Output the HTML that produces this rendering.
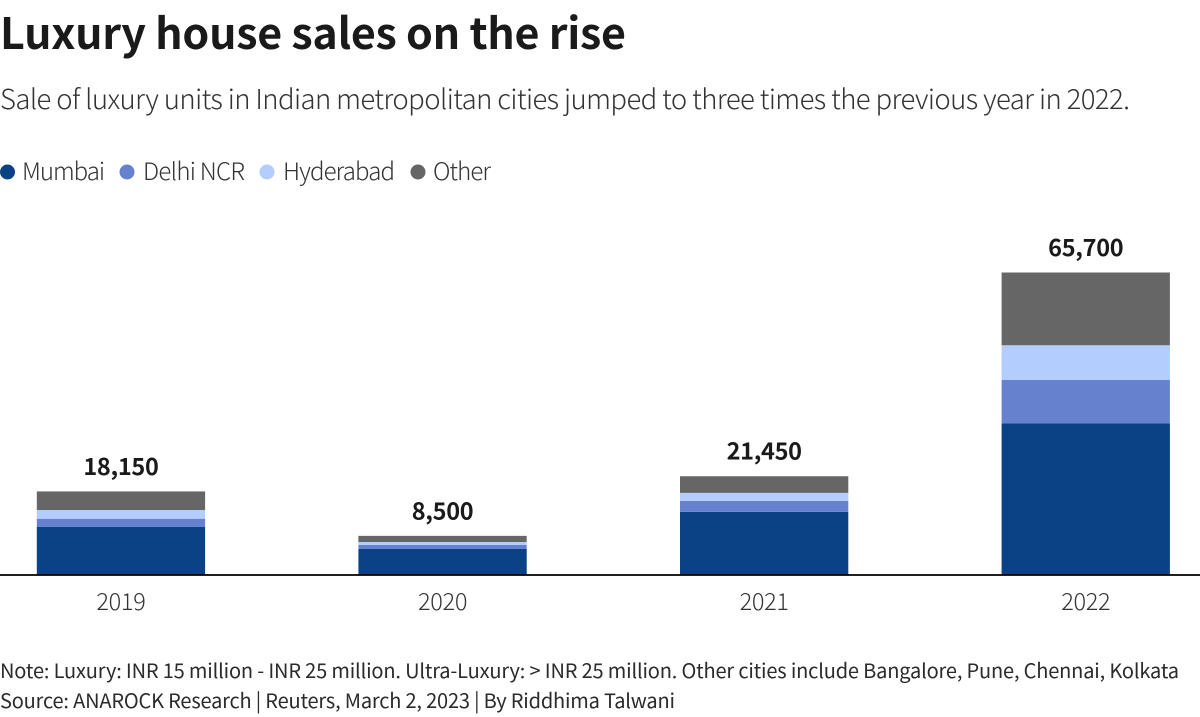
<!DOCTYPE html>
<html lang="en">
<head>
<meta charset="utf-8">
<title>Luxury house sales on the rise</title>
<style>
  html, body { margin: 0; padding: 0; background: #fff; }
  body { width: 1200px; height: 717px; overflow: hidden; position: relative; }
  svg { position: absolute; left: 0; top: 0; display: block; }
  text { font-family: "Noto Sans CJK JP", "Liberation Sans", sans-serif; }
  .title { font-size: 43px; font-weight: 700; fill: #1a1a1a; }
  .subtitle { font-size: 27.5px; font-weight: 300; fill: #333; }
  .legend { font-size: 24px; font-weight: 300; fill: #333; }
  .tick { font-size: 23.5px; font-weight: 300; fill: #333; text-anchor: middle; letter-spacing: -0.3px; }
  .total { font-size: 23.5px; font-weight: 700; fill: #1a1a1a; text-anchor: middle; letter-spacing: -0.3px; }
  .note { font-size: 20px; font-weight: 400; fill: #2b2b2b; }
</style>
</head>
<body>
<svg id="chart" width="1200" height="717" viewBox="0 0 1200 717" xmlns="http://www.w3.org/2000/svg">
  <text class="title" x="0" y="49" textLength="626" lengthAdjust="spacing">Luxury house sales on the rise</text>
  <text class="subtitle" x="0" y="109" textLength="1130" lengthAdjust="spacing">Sale of luxury units in Indian metropolitan cities jumped to three times the previous year in 2022.</text>

  <g>
    <g>
      <circle cx="7.5" cy="172" r="7.5" fill="#0b4285"></circle>
      <text class="legend" x="22" y="180" textLength="83" lengthAdjust="spacing">Mumbai</text>
    </g>
    <g>
      <circle cx="127" cy="172" r="7.5" fill="#6682cf"></circle>
      <text class="legend" x="143" y="180" textLength="102" lengthAdjust="spacing">Delhi NCR</text>
    </g>
    <g>
      <circle cx="267" cy="172" r="7.5" fill="#b3cdff"></circle>
      <text class="legend" x="283" y="180" textLength="112" lengthAdjust="spacing">Hyderabad</text>
    </g>
    <g>
      <circle cx="418" cy="172" r="7.5" fill="#666666"></circle>
      <text class="legend" x="433" y="180" textLength="58" lengthAdjust="spacing">Other</text>
    </g>
  </g>

  <g id="plot"></g>

  <text class="note" x="0" y="678" textLength="1179" lengthAdjust="spacing">Note: Luxury: INR 15 million - INR 25 million. Ultra-Luxury: &gt; INR 25 million. Other cities include Bangalore, Pune, Chennai, Kolkata</text>
  <text class="note" x="0" y="708" textLength="675" lengthAdjust="spacing">Source: ANAROCK Research | Reuters, March 2, 2023 | By Riddhima Talwani</text>
</svg>

<script>
const years = ['2019', '2020', '2021', '2022'];
const mumbai = [10430, 5650, 13700, 32900];
const delhiNcr = [1800, 870, 2390, 9450];
const hyderabad = [1890, 650, 1740, 7550];
const other = [4030, 1330, 3620, 15800];
const totalLabels = ['18,150', '8,500', '21,450', '65,700'];

const seriesValues = [mumbai, delhiNcr, hyderabad, other];
const seriesNames = ['mumbai', 'delhi-ncr', 'hyderabad', 'other'];
const seriesColors = ['#0b4285', '#6682cf', '#b3cdff', '#666666'];

const SVG_NS = 'http://www.w3.org/2000/svg';
const plot = document.getElementById('plot');

const baselineY = 575;
const pxPerUnit = 302.5 / 65700;
const firstBarLeft = 36.8;
const barStep = 321.6;
const barWidth = 168.3;

function yScale(value) {
  return baselineY - value * pxPerUnit;
}
function xScale(index) {
  return firstBarLeft + index * barStep;
}

years.forEach(function (year, i) {
  let cumulative = 0;
  seriesValues.forEach(function (values, s) {
    const top = yScale(cumulative + values[i]);
    const bottom = yScale(cumulative);
    const rect = document.createElementNS(SVG_NS, 'rect');
    
    
    rect.setAttribute('x', xScale(i));
    rect.setAttribute('y', top);
    rect.setAttribute('width', barWidth);
    rect.setAttribute('height', bottom - top);
    rect.setAttribute('fill', seriesColors[s]);
    plot.appendChild(rect);
    cumulative += values[i];
  });

  const center = xScale(i) + barWidth / 2;

  const total = document.createElementNS(SVG_NS, 'text');
  
  
  total.setAttribute('class', 'total');
  total.setAttribute('x', center);
  total.setAttribute('y', yScale(cumulative) - 16.5);
  total.textContent = totalLabels[i];
  plot.appendChild(total);

  const tick = document.createElementNS(SVG_NS, 'text');
  
  
  tick.setAttribute('class', 'tick');
  tick.setAttribute('x', center);
  tick.setAttribute('y', 610);
  tick.textContent = year;
  plot.appendChild(tick);
});

const axis = document.createElementNS(SVG_NS, 'line');


axis.setAttribute('x1', 0);
axis.setAttribute('x2', 1200);
axis.setAttribute('y1', baselineY);
axis.setAttribute('y2', baselineY);
axis.setAttribute('stroke', '#000');
axis.setAttribute('stroke-width', 1.8);
plot.appendChild(axis);
</script>
</body>
</html>
